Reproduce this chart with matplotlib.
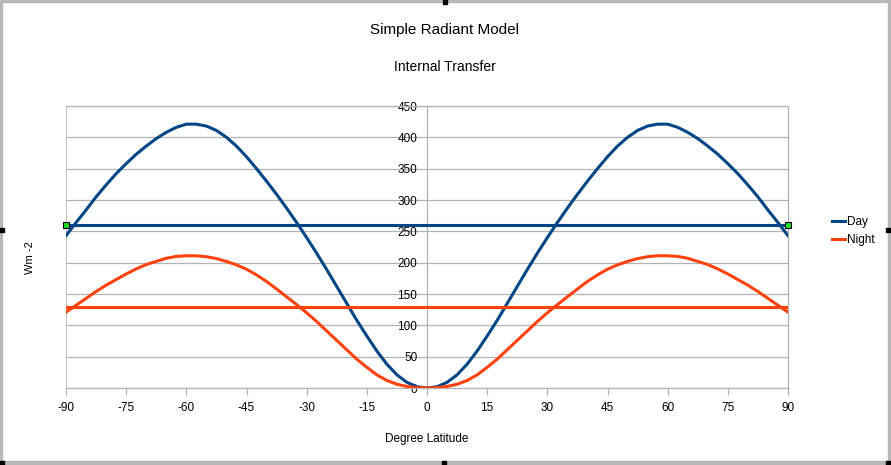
import matplotlib
matplotlib.use("Agg")
import matplotlib.pyplot as plt
from matplotlib.lines import Line2D
from matplotlib.patches import Rectangle

plt.rcParams['font.family'] = ['Liberation Sans', 'DejaVu Sans']
plt.rcParams['axes.unicode_minus'] = False

# latitude (deg) and flux values
lat = [-90, -87.5, -85, -82.5, -80, -77.5, -75, -72.5, -70, -67.5, -65, -62.5, -60, -57.5,
       -55, -52.5, -50, -47.5, -45, -42.5, -40, -37.5, -35, -32.5, -30, -27.5, -25, -22.5,
       -20, -17.5, -15, -12.5, -10, -7.5, -5, -2.5, 0,
       2.5, 5, 7.5, 10, 12.5, 15, 17.5, 20, 22.5, 25, 27.5, 30, 32.5, 35, 37.5, 40, 42.5,
       45, 47.5, 50, 52.5, 55, 57.5, 60, 62.5, 65, 67.5, 70, 72.5, 75, 77.5, 80, 82.5, 85,
       87.5, 90]
day = [243, 264, 284, 305, 324, 342, 358, 373, 386, 398, 408, 416, 421, 421,
       418, 411, 400, 386, 369, 350, 330, 309, 287, 264, 240, 215, 189, 162,
       135, 108, 83, 59, 38, 21, 9, 2, 0,
       2, 9, 21, 38, 59, 83, 108, 135, 162, 189, 215, 240, 264, 287, 309, 330, 350,
       369, 386, 400, 411, 418, 421, 421, 416, 408, 398, 386, 373, 358, 342, 324, 305, 284,
       264, 243]
night = [121, 132, 143, 154, 164, 173, 182, 190, 197, 202, 207, 210, 211, 211,
         209.5, 206.5, 202, 196.5, 189.5, 180.5, 170, 158, 145.5, 133, 120, 106, 91, 76,
         61, 46, 33, 21, 12, 6, 2.5, 0.5, 0,
         0.5, 2.5, 6, 12, 21, 33, 46, 61, 76, 91, 106, 120, 133, 145.5, 158, 170, 180.5,
         189.5, 196.5, 202, 206.5, 209.5, 211, 211, 210, 207, 202, 197, 190, 182, 173, 164, 154, 143,
         132, 121]
day_mean = 260
night_mean = 130

xticks = list(range(-90, 91, 15))
yticks = list(range(0, 451, 50))

blue = '#004586'
orange = '#ff420e'
grey = '#b3b3b3'

fig = plt.figure(figsize=(8.91, 4.65), dpi=100)
ax = fig.add_axes([66/891, 77/465, 722/891, 282/465])

ax.plot(lat, day, color=blue, lw=2.2, label='Day', zorder=3, solid_joinstyle='round')
ax.plot(lat, night, color=orange, lw=2.2, label='Night', zorder=3, solid_joinstyle='round')
ax.plot([lat[0], lat[-1]], [day_mean, day_mean], color=blue, lw=2.2, zorder=3)
ax.plot([lat[0], lat[-1]], [night_mean, night_mean], color=orange, lw=2.2, zorder=3)
# selection handles at the ends of the day mean line
ax.plot([lat[0], lat[-1]], [day_mean, day_mean], ls='none', marker='s', ms=5,
        mfc='#22dd22', mec='black', mew=0.8, clip_on=False, zorder=5)

ax.set_xlim(-90, 90)
ax.set_ylim(0, 450)
ax.set_xticks(xticks)
ax.set_yticks(yticks)
ax.yaxis.grid(True, color=grey, lw=0.9)
ax.set_axisbelow(True)

# y axis sits at latitude 0
ax.spines['left'].set_position(('data', 0))
for s in ax.spines.values():
    s.set_color(grey)
    s.set_linewidth(0.9)
ax.axvline(-90, color=grey, lw=1.2, zorder=1)
ax.tick_params(axis='x', length=5, width=0.9, color=grey, pad=5, labelsize=8.5)
ax.tick_params(axis='y', length=0, pad=7, labelsize=8.5)

ax.set_xlabel('Degree Latitude', fontsize=8.5, labelpad=14)
fig.text(30/891, 1 - 258/465, 'Wm -2', rotation=90, ha='center', va='center', fontsize=8)

fig.text(445/891, 1 - 30/465, 'Simple Radiant Model', ha='center', va='center', fontsize=11)
fig.text(445/891, 1 - 67/465, 'Internal Transfer', ha='center', va='center', fontsize=10)

handles = [Line2D([], [], color=blue, lw=2.2), Line2D([], [], color=orange, lw=2.2)]
fig.legend(handles, ['Day', 'Night'], loc='center left', bbox_to_anchor=(832/891, 1 - 231/465),
           frameon=False, fontsize=8.5, handlelength=1.1, handletextpad=0.2, labelspacing=0.55,
           borderaxespad=0, borderpad=0)

# window border and handles
fig.patches.append(Rectangle((0, 0), 2/891, 1, transform=fig.transFigure, color='#b8b8b8', zorder=0))
fig.patches.append(Rectangle((888/891, 0), 3/891, 1, transform=fig.transFigure, color='#b8b8b8', zorder=0))
fig.patches.append(Rectangle((0, 1 - 2/465), 1, 2/465, transform=fig.transFigure, color='#b8b8b8', zorder=0))
fig.patches.append(Rectangle((0, 0), 1, 4/465, transform=fig.transFigure, color='#b8b8b8', zorder=0))
for hx, hy in [(0, 228), (886, 228), (443, 0), (0, 461), (442, 461), (886, 461)]:
    fig.patches.append(Rectangle((hx/891, 1 - (hy + 4)/465), 4/891, 4/465,
                                 transform=fig.transFigure, color='black', zorder=1))

fig.savefig('out.png', dpi=100)
